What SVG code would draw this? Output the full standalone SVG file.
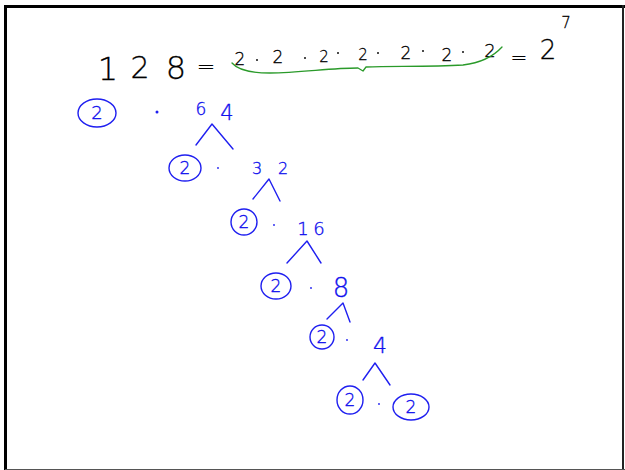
<svg xmlns="http://www.w3.org/2000/svg" width="625" height="470" viewBox="0 0 625 470">
<style>
.k{font-family:"DejaVu Sans","Liberation Sans",sans-serif;font-weight:200;fill:#000;stroke:#000;stroke-width:0.3;text-anchor:middle}
.b{font-family:"DejaVu Sans","Liberation Sans",sans-serif;font-weight:200;fill:#1010ee;stroke:#1010ee;stroke-width:0.35;text-anchor:middle}
.ring{fill:none;stroke:#1f1ff0;stroke-width:1.4}
.br{fill:none;stroke:#1f1ff0;stroke-width:1.4;stroke-linecap:round;stroke-linejoin:round}
.dk{fill:#111}
.db{fill:#1f1ff0}
</style>
<rect x="0" y="0" width="625" height="470" fill="#fff"/>
<g id="frame">
<line x1="5.5" y1="5" x2="5.5" y2="470" stroke="#000" stroke-width="3"/>
<line x1="4" y1="6.5" x2="625" y2="6.5" stroke="#000" stroke-width="3"/>
<line x1="623" y1="5" x2="623" y2="470" stroke="#222" stroke-width="2"/>
<line x1="5" y1="469.5" x2="625" y2="469.5" stroke="#555" stroke-width="1"/>
</g>
<g id="equation">
<text class="k" x="108" y="80" font-size="32">1</text>
<text class="k" x="140" y="78" font-size="30">2</text>
<text class="k" x="176" y="79" font-size="32">8</text>
<text class="k" x="206" y="74" font-size="22">=</text>
<text class="k" x="240" y="65" font-size="17">2</text>
<circle class="dk" cx="257" cy="60" r="1"/>
<text class="k" x="278" y="63" font-size="17">2</text>
<circle class="dk" cx="305" cy="58" r="1"/>
<text class="k" x="324" y="62" font-size="15">2</text>
<circle class="dk" cx="338" cy="53" r="1"/>
<text class="k" x="363" y="60" font-size="15">2</text>
<circle class="dk" cx="378" cy="53" r="1"/>
<text class="k" x="406" y="59" font-size="17">2</text>
<circle class="dk" cx="423" cy="51" r="1"/>
<text class="k" x="447" y="61" font-size="17">2</text>
<circle class="dk" cx="463" cy="52" r="1"/>
<text class="k" x="490" y="57" font-size="18">2</text>
<text class="k" x="519" y="64" font-size="20">=</text>
<text class="k" x="548" y="59" font-size="26">2</text>
<text class="k" x="566" y="28" font-size="15">7</text>
<path d="M232,63 C238,70 250,73 270,73 C300,73 330,68 358,68 L363,71 L366,67 C395,66 430,67 463,65 C480,63 492,58 502,47" fill="none" stroke="#2a9a2a" stroke-width="1.3" stroke-linecap="round" stroke-linejoin="round"/>
</g>
<g id="connectors">
<path class="br" d="M196,145 L212,124 L233,149"/>
<path class="br" d="M253,199 L269,179 L280,201"/>
<path class="br" d="M287,263 L307,241 L321,263"/>
<path class="br" d="M327,319 L343,303 L350,322"/>
<path class="br" d="M363,380 L375,363 L390,385"/>
</g>
<g id="n128-row1">
<ellipse class="ring" cx="97" cy="113" rx="19" ry="14"/>
<text class="b" x="97" y="119" font-size="18">2</text>
<circle class="db" cx="157" cy="112" r="1.5"/>
<text class="b" x="213" y="118" font-size="17"><tspan x="201" y="115" font-size="17">6</tspan><tspan x="227" y="120" font-size="21">4</tspan></text>
</g>
<g id="n64-row2">
<ellipse class="ring" cx="185" cy="168" rx="16" ry="13"/>
<text class="b" x="185" y="174" font-size="17">2</text>
<circle class="db" cx="218" cy="168" r="0.9"/>
<text class="b" x="270" y="174" font-size="16"><tspan x="257">3</tspan><tspan x="283">2</tspan></text>
</g>
<g id="n32-row3">
<ellipse class="ring" cx="244" cy="222" rx="13" ry="13"/>
<text class="b" x="244" y="228" font-size="17">2</text>
<circle class="db" cx="274" cy="225" r="0.9"/>
<text class="b" x="311" y="235" font-size="18"><tspan x="303">1</tspan><tspan x="319">6</tspan></text>
</g>
<g id="n16-row4">
<ellipse class="ring" cx="276" cy="286" rx="15" ry="13"/>
<text class="b" x="276" y="292" font-size="17">2</text>
<circle class="db" cx="311" cy="288" r="0.9"/>
<text class="b" x="341" y="297" font-size="26">8</text>
</g>
<g id="n8-row5">
<ellipse class="ring" cx="322" cy="337" rx="12" ry="12"/>
<text class="b" x="322" y="343" font-size="17">2</text>
<circle class="db" cx="347" cy="340" r="0.9"/>
<text class="b" x="380" y="353" font-size="22">4</text>
</g>
<g id="n4-row6">
<ellipse class="ring" cx="350" cy="400" rx="13" ry="14"/>
<text class="b" x="350" y="406" font-size="17">2</text>
<circle class="db" cx="379" cy="404" r="0.9"/>
<ellipse class="ring" cx="411" cy="407" rx="18" ry="13"/>
<text class="b" x="411" y="413" font-size="17">2</text>
</g>
</svg>
